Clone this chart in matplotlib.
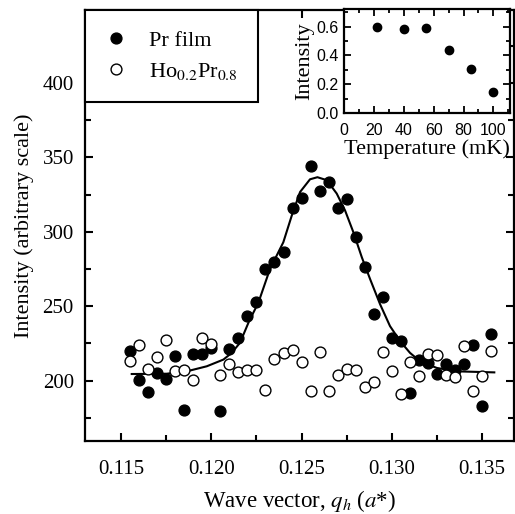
import matplotlib
matplotlib.use('Agg')
import matplotlib.pyplot as plt
from matplotlib.ticker import MultipleLocator, FixedLocator

plt.rcParams['font.family'] = ['Liberation Serif', 'DejaVu Serif']
plt.rcParams['mathtext.fontset'] = 'stix'

# main scan: wave vector vs intensity
q = [0.1155, 0.1160, 0.1165, 0.1170, 0.1175, 0.1180, 0.1185, 0.1190, 0.1195, 0.1200,
     0.1205, 0.1210, 0.1215, 0.1220, 0.1225, 0.1230, 0.1235, 0.1240, 0.1245, 0.1250,
     0.1255, 0.1260, 0.1265, 0.1270, 0.1275, 0.1280, 0.1285, 0.1290, 0.1295, 0.1300,
     0.1305, 0.1310, 0.1315, 0.1320, 0.1325, 0.1330, 0.1335, 0.1340, 0.1345, 0.1350,
     0.1355]
pr_film = [219.8, 200.7, 192.6, 205.2, 201.1, 216.9, 180.6, 218.2, 218.2, 222.3,
           179.9, 221.4, 228.4, 243.4, 252.9, 275.0, 280.0, 286.7, 316.0, 322.7,
           344.0, 327.5, 333.5, 316.0, 322.0, 296.4, 276.6, 245.0, 256.0, 228.4,
           227.0, 191.7, 213.7, 212.0, 204.7, 211.3, 207.4, 211.3, 223.9, 183.3,
           231.5]
hopr = [213.5, 223.9, 207.9, 215.7, 227.2, 206.8, 207.4, 200.2, 228.4, 224.8,
        203.6, 211.5, 205.6, 207.4, 207.4, 193.9, 214.9, 218.7, 220.9, 212.6,
        192.8, 219.4, 193.4, 204.0, 207.9, 207.0, 195.7, 198.9, 219.1, 206.3,
        191.2, 212.4, 203.4, 218.2, 217.1, 204.1, 202.2, 223.2, 193.4, 202.9,
        219.8]

# fitted curve
fit_q = [0.11559, 0.11753, 0.11864, 0.11975, 0.12067, 0.12113, 0.12159, 0.12209,
         0.12261, 0.12325, 0.12399, 0.12446, 0.12492, 0.12547, 0.12588, 0.12640,
         0.12695, 0.12741, 0.12787, 0.12834, 0.12880, 0.12935, 0.12990, 0.13046,
         0.13101, 0.13157, 0.13249, 0.13360, 0.13568]
fit_i = [204.5, 204.7, 206.3, 209.7, 214.2, 218.7, 225.5, 239.9,
         252.5, 275.0, 293.0, 311.0, 326.8, 335.3, 336.7, 334.7,
         325.7, 314.4, 299.8, 282.9, 268.2, 251.4, 236.7, 226.6,
         218.7, 213.0, 208.6, 206.3, 205.6]

# inset: peak intensity vs temperature
temp = [22, 40, 55, 70, 85, 100]
peak = [0.595, 0.58, 0.59, 0.435, 0.305, 0.145]

fig = plt.figure(figsize=(5.15, 5.14), dpi=100)
ax = fig.add_axes([0.165, 0.142, 0.833, 0.8385])

ax.plot(fit_q, fit_i, color='black', lw=1.5, zorder=2)
ax.plot(q, pr_film, 'o', color='black', ms=7.8, label='Pr film', zorder=3)
ax.plot(q, hopr, 'o', mfc='white', mec='black', mew=1.0, ms=7.8,
        label=r'Ho$_{0.2}$Pr$_{0.8}$', zorder=3)

ax.set_xlim(0.1130, 0.13677)
ax.set_ylim(159.5, 449)
ax.xaxis.set_major_locator(FixedLocator([0.115, 0.120, 0.125, 0.130, 0.135]))
ax.xaxis.set_minor_locator(FixedLocator([0.1175, 0.1225, 0.1275, 0.1325]))
ax.yaxis.set_major_locator(FixedLocator([200, 250, 300, 350, 400]))
ax.yaxis.set_minor_locator(FixedLocator([175, 225, 275, 325, 375, 425]))
ax.set_xticklabels(['0.115', '0.120', '0.125', '0.130', '0.135'])
ax.tick_params(which='both', direction='in', top=True, right=True, width=1.5)
ax.tick_params(which='major', length=6, labelsize=15)
ax.tick_params(which='minor', length=4)
ax.tick_params(axis='x', pad=14)
ax.tick_params(axis='y', pad=8)
for s in ax.spines.values():
    s.set_linewidth(1.6)

ax.set_xlabel(r'Wave vector, $q_h$ ($a$*)', size=16.5, labelpad=6)
ax.set_ylabel('Intensity (arbitrary scale)', size=16, labelpad=6)

leg = ax.legend(loc='upper left', bbox_to_anchor=(0, 1), borderaxespad=0,
                fancybox=False, edgecolor='black', framealpha=1, fontsize=16,
                borderpad=0.9, handlelength=1.0, handletextpad=1.0,
                labelspacing=0.45, markerscale=1.0)
leg.get_frame().set_linewidth(1.5)

# inset
ins = fig.add_axes([0.668, 0.780, 0.322, 0.202])
ins.set_facecolor('white')
ins.plot(temp, peak, 'o', color='black', ms=6)
ins.set_xlim(0, 111)
ins.set_ylim(0, 0.72)
ins.xaxis.set_major_locator(MultipleLocator(20))
ins.xaxis.set_minor_locator(MultipleLocator(10))
ins.yaxis.set_major_locator(FixedLocator([0.0, 0.2, 0.4, 0.6]))
ins.yaxis.set_minor_locator(FixedLocator([0.1, 0.3, 0.5, 0.7]))
ins.set_yticklabels(['0.0', '0.2', '0.4', '0.6'])
ins.tick_params(which='both', direction='in', top=True, right=True, width=1.3)
ins.tick_params(which='major', length=5, labelsize=11.5)
ins.tick_params(axis='x', pad=7)
ins.tick_params(axis='y', pad=4)
ins.tick_params(which='minor', length=3)
for lab in ins.get_xticklabels() + ins.get_yticklabels():
    lab.set_family('Liberation Sans')
for s in ins.spines.values():
    s.set_linewidth(1.6)
ins.set_xlabel('Temperature (mK)', size=16, labelpad=1)
ins.set_ylabel('Intensity', size=16, labelpad=1)

fig.savefig('out.png', dpi=100)
